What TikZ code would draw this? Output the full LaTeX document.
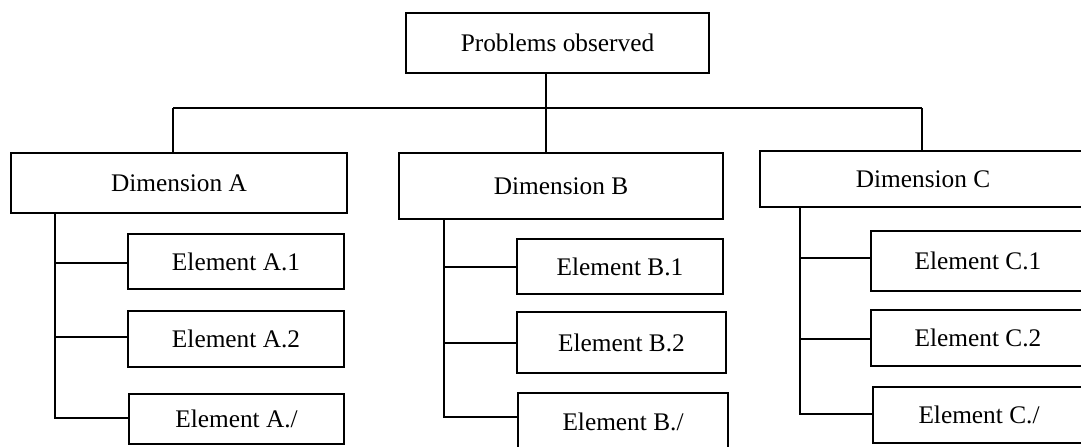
\documentclass[tikz,border=0pt]{standalone}
\usepackage{fontspec}
\newfontfamily\garfont{Liberation Serif}
\tikzset{
  box/.style={draw, line width=1.6pt, inner sep=0pt, font=\garfont\fontsize{19}{22}\selectfont},
  link/.style={line width=1.2pt},
}
\newcommand\mkbox[6]{%
  \node[box, minimum width={(#4-#2)*0.75pt}, minimum height={(#5-#3)*0.75pt}]
    (#1) at ({(#2+#4)/2},{(#3+#5)/2}) {#6};}
\begin{document}
\begin{tikzpicture}[x=0.75pt,y=-0.75pt]
\useasboundingbox (0,0) rectangle (1081,446);
\clip (0,0) rectangle (1081,446);
% boxes
\mkbox{P}{406}{13}{709}{73}{Problems observed}
\mkbox{DA}{11}{153}{347}{213}{Dimension A}
\mkbox{DB}{399}{153}{723}{219}{Dimension B}
\mkbox{DC}{760}{151}{1086}{207}{Dimension C}
\mkbox{EA1}{128}{234}{344}{289}{Element A.1}
\mkbox{EA2}{128}{311}{344}{367}{Element A.2}
\mkbox{EA3}{129}{394}{344}{444}{Element A./}
\mkbox{EB1}{517}{239}{723}{294}{Element B.1}
\mkbox{EB2}{517}{312}{726}{373}{Element B.2}
\mkbox{EB3}{518}{393}{728}{450}{Element B./}
\mkbox{EC1}{871}{231}{1085}{291}{Element C.1}
\mkbox{EC2}{871}{310}{1085}{366}{Element C.2}
\mkbox{EC3}{873}{387}{1085}{443}{Element C./}
% top connectors
\coordinate (hl) at (173,108);
\coordinate (hm) at (546,108);
\coordinate (hr) at (922,108);
\draw[link] (hm |- P.south) -- (hm);
\draw[link] (hl) -- (hr);
\draw[link] (hl) -- (hl |- DA.north);
\draw[link] (hm) -- (hm |- DB.north);
\draw[link] (hr) -- (hr |- DC.north);
% dimension A
\coordinate (tA) at (55,213);
\coordinate (a1) at (55,263);
\coordinate (a2) at (55,337);
\coordinate (a3) at (55,418);
\draw[link] (tA) -- (a3) -- (a3 -| EA3.west);
\draw[link] (a1) -- (a1 -| EA1.west);
\draw[link] (a2) -- (a2 -| EA2.west);
% dimension B
\coordinate (tB) at (444,219);
\coordinate (b1) at (444,267);
\coordinate (b2) at (444,343);
\coordinate (b3) at (444,417);
\draw[link] (tB) -- (b3) -- (b3 -| EB3.west);
\draw[link] (b1) -- (b1 -| EB1.west);
\draw[link] (b2) -- (b2 -| EB2.west);
% dimension C
\coordinate (tC) at (800,207);
\coordinate (c1) at (800,258);
\coordinate (c2) at (800,339);
\coordinate (c3) at (800,414);
\draw[link] (tC) -- (c3) -- (c3 -| EC3.west);
\draw[link] (c1) -- (c1 -| EC1.west);
\draw[link] (c2) -- (c2 -| EC2.west);
\end{tikzpicture}
\end{document}
